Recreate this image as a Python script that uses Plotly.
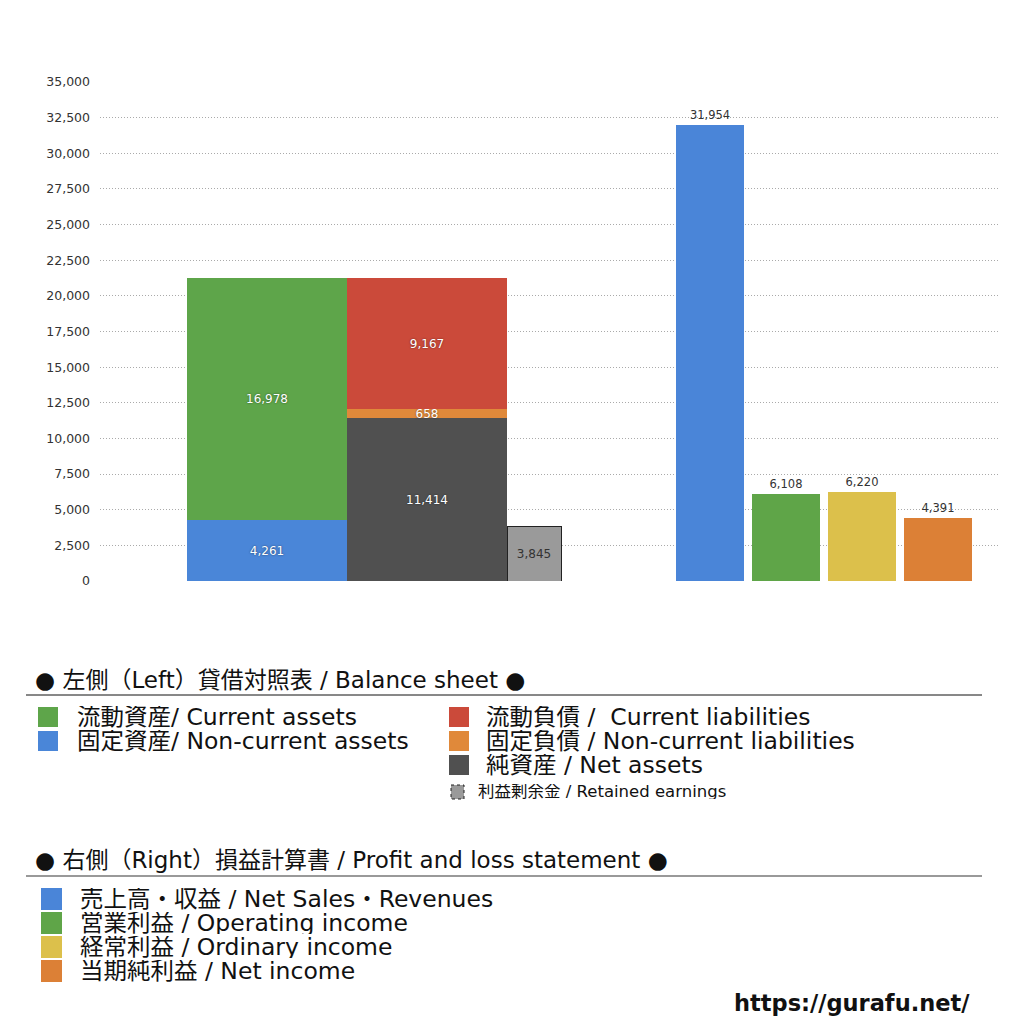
import plotly.graph_objects as go

# ---------------- data ----------------
bs_categories = ["資産", "負債・純資産", "利益剰余金"]
current_assets = [16978]
noncurrent_assets = [4261]
current_liabilities = [9167]
noncurrent_liabilities = [658]
net_assets = [11414]
retained_earnings = [3845]

pl_categories = ["売上高・収益", "営業利益", "経常利益", "当期純利益"]
pl_values = [31954, 6108, 6220, 4391]

y_ticks = list(range(0, 35001, 2500))

# ---------------- styles ----------------
FONT = "DejaVu Sans, Noto Sans CJK JP, sans-serif"
C_CA = "#5ea54a"
C_NCA = "#4a86d8"
C_CL = "#cb4a3a"
C_NCL = "#e0893a"
C_NA = "#505050"
C_RE = "#9a9a9a"
PL_COLORS = ["#4a85d8", "#5fa548", "#dcc04b", "#dc8036"]

OFF = 8  # page body margin in the browser
FW, FH = 1024 - OFF, 1024 - OFF
# plot area in (reference) pixels
L, R, T, B = 100, 1000, 82, 581
W, H = R - L, B - T


def PX(x):
    return (x - L) / W


def PY(y):
    return (B - y) / H


fig = go.Figure()

inside_font = dict(color="white", size=12, family=FONT, shadow="0px 0px 2px rgba(0,0,0,0.55)")

# left: balance sheet (stacked)
fig.add_trace(go.Bar(x=[bs_categories[0]], y=noncurrent_assets, name="固定資産/ Non-current assets",
                     marker=dict(color=C_NCA, line=dict(width=0)), width=1,
                     text=[f"{v:,}" for v in noncurrent_assets], textposition="inside",
                     insidetextanchor="middle", textfont=inside_font, textangle=0,
                     xaxis="x", yaxis="y"))
fig.add_trace(go.Bar(x=[bs_categories[0]], y=current_assets, name="流動資産/ Current assets",
                     marker=dict(color=C_CA, line=dict(width=0)), width=1,
                     text=[f"{v:,}" for v in current_assets], textposition="inside",
                     insidetextanchor="middle", textfont=inside_font, textangle=0,
                     xaxis="x", yaxis="y"))
fig.add_trace(go.Bar(x=[bs_categories[1]], y=net_assets, name="純資産 / Net assets",
                     marker=dict(color=C_NA, line=dict(width=0)), width=1,
                     text=[f"{v:,}" for v in net_assets], textposition="inside",
                     insidetextanchor="middle", textfont=inside_font, textangle=0,
                     xaxis="x", yaxis="y"))
fig.add_trace(go.Bar(x=[bs_categories[1]], y=noncurrent_liabilities, name="固定負債 / Non-current liabilities",
                     marker=dict(color=C_NCL, line=dict(width=0)), width=1,
                     text=[f"{v:,}" for v in noncurrent_liabilities], textposition="inside",
                     insidetextanchor="middle", textfont=inside_font, textangle=0,
                     constraintext="none",
                     xaxis="x", yaxis="y"))
fig.add_trace(go.Bar(x=[bs_categories[1]], y=current_liabilities, name="流動負債 / Current liabilities",
                     marker=dict(color=C_CL, line=dict(width=0)), width=1,
                     text=[f"{v:,}" for v in current_liabilities], textposition="inside",
                     insidetextanchor="middle", textfont=inside_font, textangle=0,
                     xaxis="x", yaxis="y"))
fig.add_trace(go.Bar(x=[bs_categories[2]], y=retained_earnings, name="利益剰余金 / Retained earnings",
                     marker=dict(color=C_RE, line=dict(width=1, color="#222")), width=0.3375, offset=-0.5,
                     text=[f"{v:,}" for v in retained_earnings], textposition="inside",
                     insidetextanchor="middle", textfont=dict(color="#333", size=12, family=FONT),
                     textangle=0, constraintext="none",
                     xaxis="x", yaxis="y"))

# right: P&L
fig.add_trace(go.Bar(x=pl_categories, y=pl_values, name="損益計算書",
                     marker=dict(color=PL_COLORS, line=dict(width=0)), width=68 / 76,
                     text=[f"{v:,}" for v in pl_values], textposition="outside",
                     textfont=dict(color="#333", size=11.5, family=FONT), textangle=0,
                     cliponaxis=False, xaxis="x2", yaxis="y"))

# axis ranges in category units
u_left = 160.0
left_start = -(267 - L) / u_left
u_right = 76.0
right_start = -(710 - L) / u_right

shapes = []
annotations = []

# header 1
annotations.append(dict(x=PX(33), y=PY(680), text="● 左側（Left）貸借対照表 / Balance sheet ●",
                        font=dict(size=23, color="#111", family=FONT)))
shapes.append(dict(type="line", x0=PX(26), x1=PX(982), y0=PY(695), y1=PY(695),
                   line=dict(color="#111", width=1)))

legend_items = [
    # (swatch x0, x1, center y, half, color, text x, text, size, dashed)
    (38, 58, 717, 10, C_CA, 75, "流動資産/ Current assets", 23.5, False),
    (38, 58, 741, 10, C_NCA, 75, "固定資産/ Non-current assets", 23.5, False),
    (449, 469, 717, 10, C_CL, 484, "流動負債 /  Current liabilities", 23.5, False),
    (449, 469, 741, 10, C_NCL, 484, "固定負債 / Non-current liabilities", 23.5, False),
    (449, 469, 765, 10, C_NA, 484, "純資産 / Net assets", 23.5, False),
    (451, 464, 792, 7, C_RE, 476, "利益剰余金 / Retained earnings", 16.5, True),
    (41, 62, 899, 11, PL_COLORS[0], 78, "売上高・収益 / Net Sales・Revenues", 23.5, False),
    (41, 62, 923, 11, PL_COLORS[1], 78, "営業利益 / Operating income", 23.5, False),
    (41, 62, 947, 11, PL_COLORS[2], 78, "経常利益 / Ordinary income", 23.5, False),
    (41, 62, 971, 11, PL_COLORS[3], 78, "当期純利益 / Net income", 23.5, False),
]
for x0, x1, cy, hh, col, tx, txt, sz, dashed in legend_items:
    shapes.append(dict(type="rect", x0=PX(x0), x1=PX(x1), y0=PY(cy - hh), y1=PY(cy + hh),
                       fillcolor=col,
                       line=dict(color="#222" if dashed else col, width=1 if dashed else 0,
                                 dash="dot" if dashed else "solid")))
    annotations.append(dict(x=PX(tx), y=PY(cy), text=txt, height=int(sz) - 1,
                            font=dict(size=sz, color="#111", family=FONT)))

# header 2
annotations.append(dict(x=PX(33), y=PY(860), text="● 右側（Right）損益計算書 / Profit and loss statement ●",
                        font=dict(size=23, color="#111", family=FONT)))
shapes.append(dict(type="line", x0=PX(26), x1=PX(982), y0=PY(876), y1=PY(876),
                   line=dict(color="#777", width=1.5)))

# url
annotations.append(dict(x=PX(972), y=PY(1003), xanchor="right", text="<b>https://gurafu.net/</b>",
                        font=dict(size=22.5, color="#111", family="DejaVu Sans, sans-serif")))

for a in annotations:
    a.setdefault("xanchor", "left")
    a["yanchor"] = "middle"
    a["xref"] = "paper"
    a["yref"] = "paper"
    a["showarrow"] = False
for s in shapes:
    s["xref"] = "paper"
    s["yref"] = "paper"
    s["layer"] = "above"

fig.update_layout(
    width=FW, height=FH,
    margin=dict(l=L - OFF, r=FW - (R - OFF), t=T - OFF, b=FH - (B - OFF), pad=0),
    paper_bgcolor="white", plot_bgcolor="white",
    barmode="stack",
    showlegend=False,
    font=dict(family=FONT, color="#333"),
    xaxis=dict(type="category", categoryorder="array", categoryarray=bs_categories,
               range=[left_start, left_start + W / u_left],
               showticklabels=False, showgrid=False, zeroline=False, showline=False, ticks=""),
    xaxis2=dict(type="category", categoryorder="array", categoryarray=pl_categories,
                range=[right_start, right_start + W / u_right], overlaying="x",
                showticklabels=False, showgrid=False, zeroline=False, showline=False, ticks=""),
    yaxis=dict(range=[0, 35000], tickvals=y_ticks, tickformat=",",
               showgrid=True, gridcolor="#aaaaaa", griddash="1px,2px", gridwidth=1,
               zeroline=False, showline=False, ticks="",
               tickfont=dict(size=12.5, color="#333", family=FONT), ticklabelstandoff=9),
    shapes=shapes,
    annotations=annotations,
)

fig.write_html("out.html")
